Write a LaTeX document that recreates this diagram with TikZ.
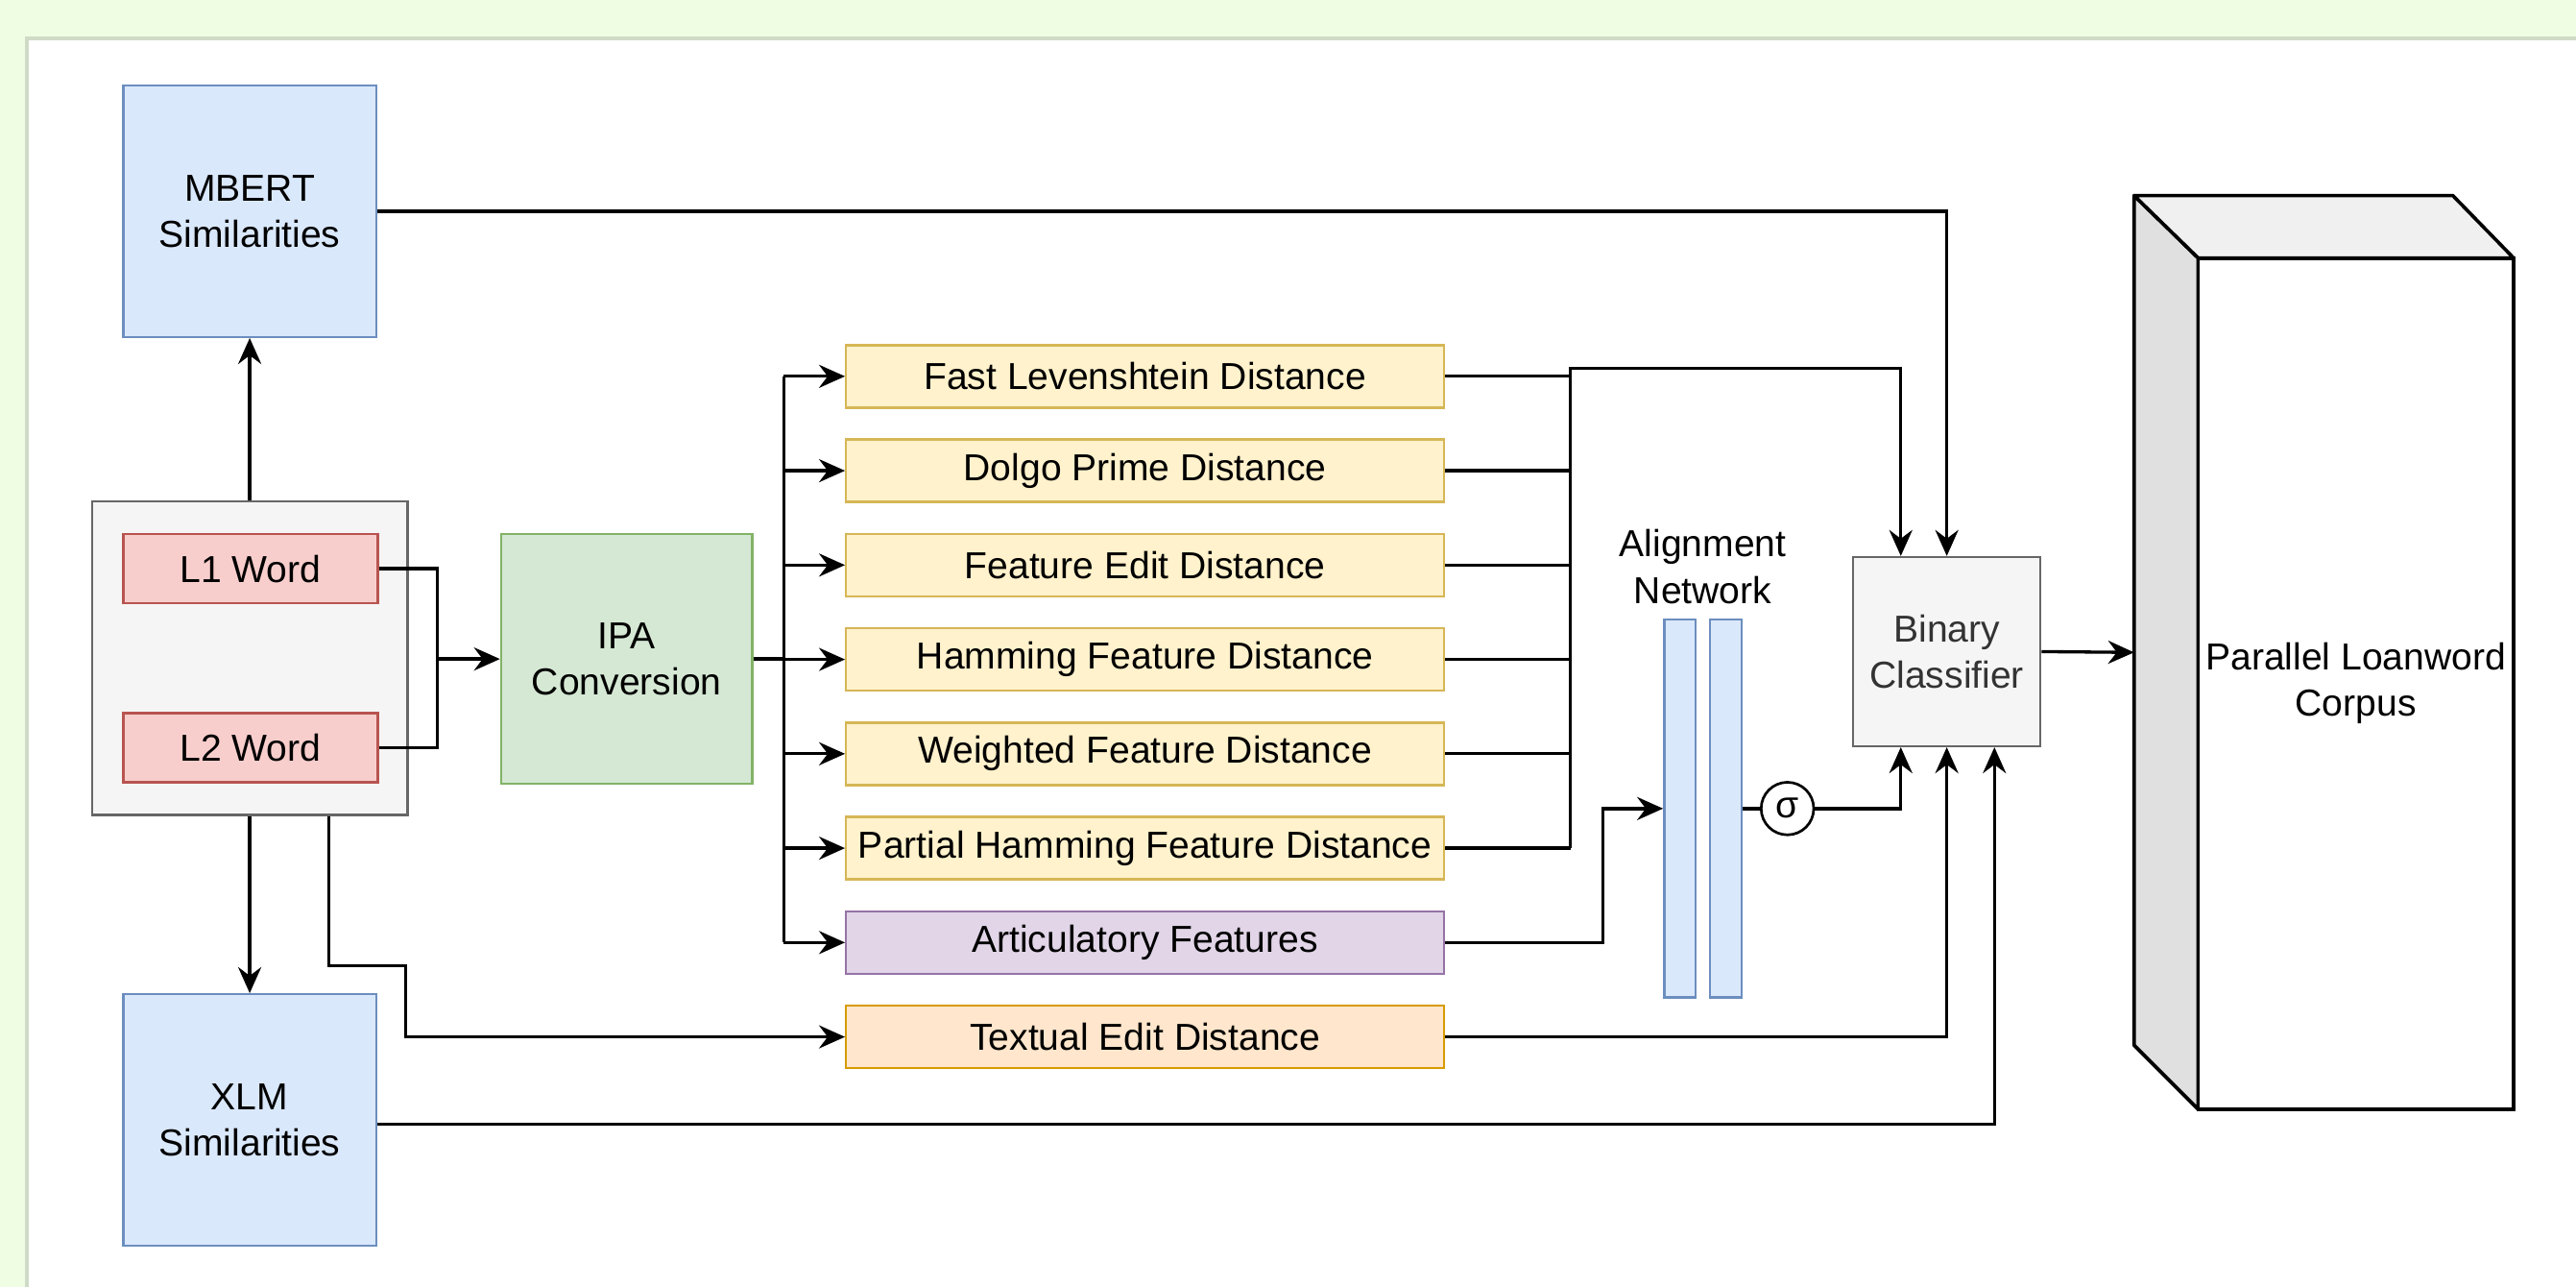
\documentclass[tikz,border=0pt]{standalone}
\usepackage{fontspec}
\setmainfont{Liberation Sans}
\usepackage{tikz}
\usetikzlibrary{shapes,shapes.geometric,arrows,arrows.meta,calc,positioning}
\definecolor{pagegreen}{HTML}{EFFDE3}
\definecolor{shadowgray}{HTML}{CFDBC6}
\definecolor{blueFill}{HTML}{DAE8FC}
\definecolor{blueLine}{HTML}{6C8EBF}
\definecolor{redFill}{HTML}{F8CECC}
\definecolor{redLine}{HTML}{B85450}
\definecolor{greenFill}{HTML}{D5E8D4}
\definecolor{greenLine}{HTML}{82B366}
\definecolor{yellowFill}{HTML}{FFF2CC}
\definecolor{yellowLine}{HTML}{D6B656}
\definecolor{purpleFill}{HTML}{E1D5E7}
\definecolor{purpleLine}{HTML}{9673A6}
\definecolor{orangeFill}{HTML}{FFE6CC}
\definecolor{orangeLine}{HTML}{D79B00}
\definecolor{grayFill}{HTML}{F5F5F5}
\definecolor{grayLine}{HTML}{666666}
\definecolor{grayText}{HTML}{333333}
\definecolor{sideGray}{HTML}{E0E0E0}
\definecolor{topGray}{HTML}{F0F0F0}
\tikzset{blk/.style={draw, rectangle, line width=0.8pt, inner sep=0pt, align=center}}
\tikzstyle{simbox}=[blk, draw=blueLine, fill=blueFill, minimum width=3.08cm, minimum height=3.06cm]
\tikzstyle{word}=[blk, draw=redLine, fill=redFill, minimum width=3.1cm, minimum height=0.84cm]
\tikzstyle{dist}=[blk, draw=yellowLine, fill=yellowFill, minimum width=7.28cm, minimum height=0.76cm]
\tikzstyle{nnbar}=[blk, draw=blueLine, fill=blueFill, minimum width=0.38cm, minimum height=4.6cm]

\begin{document}
\begin{tikzpicture}[>={Stealth[length=9pt,width=8pt,inset=3pt]}, x=0.02cm, y=-0.02cm, node distance=1.1486cm, line width=1.1pt, font=\fontsize{13}{16}\selectfont]
\useasboundingbox (0,0) rectangle (1568,783);
\fill[pagegreen] (0,0) rectangle (1568,783);
\fill[white] (17,24) rectangle (1568,783);
\draw[shadowgray, line width=1.2pt] (16.5,783) |- (1568,23.5);

\node[simbox] (MB) at (152,128.5) {MBERT\\Similarities};
\node[blk, draw=grayLine, fill=grayFill, minimum width=3.84cm, minimum height=3.82cm] (W) at (152,400.5) {};
\node[word] (L1) at (152.5,346) {L1 Word};
\node[word] (L2) at (152.5,455) {L2 Word};
\node[simbox] (XL) at (152,681.5) {XLM\\Similarities};
\node[blk, draw=greenLine, fill=greenFill, minimum width=3.06cm, minimum height=3.04cm] (IPA) at (381.5,401) {IPA\\Conversion};

\node[dist] (D1) at (697,229) {Fast Levenshtein Distance};
\node[dist][below of =D1] (D2) {Dolgo Prime Distance};
\node[dist][below of =D2] (D3) {Feature Edit Distance};
\node[dist][below of =D3] (D4) {Hamming Feature Distance};
\node[dist][below of =D4] (D5) {Weighted Feature Distance};
\node[dist][below of =D5] (D6) {Partial Hamming Feature Distance};
\node[dist, draw=purpleLine, fill=purpleFill][below of =D6] (AF) {Articulatory Features};
\node[dist, draw=orangeLine, fill=orangeFill][below of =AF] (TE) {Textual Edit Distance};

\node[nnbar] (N1) at (1022.5,492) {};
\node[nnbar] (N2) at (1050.5,492) {};
\node[align=center, anchor=south, inner sep=1pt] (AN) at (1036.5,370) {Alignment\\Network};
\node[draw, circle, minimum size=0.64cm, inner sep=0pt, line width=0.9pt] (SG) at (1088,492) {σ};
\node[blk, draw=grayLine, fill=grayFill, text=grayText, minimum width=2.28cm, minimum height=2.3cm] (BC) at (1185,396.5) {Binary\\Classifier};

% corpus block
\filldraw[fill=sideGray, line width=1.2pt, line join=round] (1299,119) -- (1338,157) -- (1338,675) -- (1299,636) -- cycle;
\filldraw[fill=topGray, line width=1.2pt, line join=round] (1299,119) -- (1493,119) -- (1530,157) -- (1338,157) -- cycle;
\node[draw, fill=white, line width=1.2pt, minimum width=3.84cm, minimum height=10.36cm, inner sep=0pt, align=center] (PC) at (1434,416) {Parallel Loanword\\Corpus};
\coordinate (PCin) at (1299,397);

% words
\draw[->] (W.north) -- (MB.south);
\draw[->] (W.south) -- (XL.north);
\coordinate (J) at (266,401);
\draw (L1.east) -| (J) |- (L2.east);
\draw[->] (J) -- (IPA.west);
\draw[->] ([xshift=0.96cm]W.south) -- ++(0,91) -- ++(47,0) |- (TE.west);

% ipa fan out
\coordinate (S) at (477,401);
\draw (IPA.east) -- (S);
\draw (S |- D1) -- (S |- AF);
\foreach \d in {D1,D2,D3,D4,D5,D6,AF}
  \draw[->] (S |- \d) -- (\d.west);

% distances into classifier
\coordinate (M) at (956,224);
\foreach \d in {D1,D2,D3,D4,D5,D6}
  \draw (\d.east) -- (M |- \d);
\draw[->] (M |- D6) -- (M) -| ([xshift=-0.56cm]BC.north);
\draw[->] (MB.east) -| (BC.north);
\draw[->] (AF.east) -- ++(96,0) |- (N1.west);
\draw (N2.east) -- (SG.west);
\draw[->] (SG.east) -| ([xshift=-0.56cm]BC.south);
\draw[->] (TE.east) -| (BC.south);
\draw[->] ([yshift=-0.05cm]XL.east) -| ([xshift=0.58cm]BC.south);
\draw[->] (BC.east) -- (PCin);
\end{tikzpicture}
\end{document}
